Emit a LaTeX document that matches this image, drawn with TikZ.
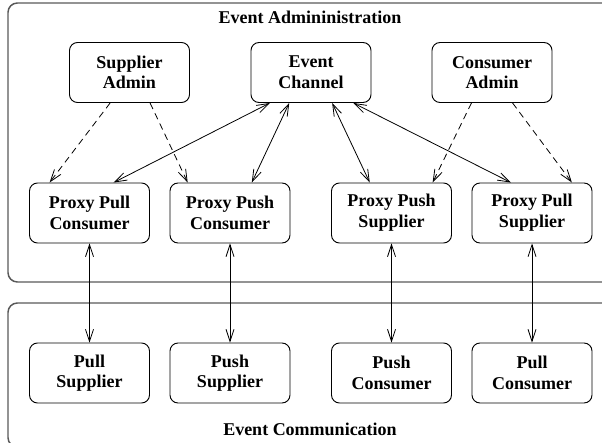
\documentclass[tikz,border=0pt]{standalone}
\usepackage{fontspec}
\setmainfont{Liberation Serif}
\usetikzlibrary{arrows.meta,calc}
\begin{document}
\begin{tikzpicture}[x=0.75pt,y=-0.75pt,
  comp/.style={draw=black,line width=0.7pt,rounded corners=6pt,minimum width=90pt,minimum height=45pt,
    align=center,inner sep=0pt,font=\fontsize{13.5}{15.5}\selectfont\bfseries},
  region/.style={draw=black!65,line width=1.1pt,rounded corners=7pt},
  regtitle/.style={font=\fontsize{13.5}{15.5}\selectfont\bfseries,inner sep=0pt},
  dep/.style={dash pattern=on 5pt off 3.5pt,line width=0.6pt,-{Straight Barb[length=9pt,width=6pt]}},
  bidi/.style={line width=0.6pt,{Straight Barb[length=9pt,width=6pt]}-{Straight Barb[length=9pt,width=6pt]}}]
\useasboundingbox (0,0) rectangle (602,442);
\clip (0,0) rectangle (602,442);
% regions
\draw[region] (8,3) rectangle (625,282);
\draw[region] (8,303) rectangle (625,447);
\node[regtitle] (admtitle) at (310,17) {Event Admininistration};
\node[regtitle] (comtitle) at (310,429) {Event Communication};
% top row
\node[comp] (sa) at (129.5,72.5) {Supplier\\Admin};
\node[comp] (ec) at (311,72.5) {Event\\Channel};
\node[comp] (ca) at (492,72.5) {Consumer\\Admin};
% proxies
\node[comp] (ppc) at (89.5,213) {Proxy Pull\\Consumer};
\node[comp] (phc) at (230,213) {Proxy Push\\Consumer};
\node[comp] (phs) at (391.5,213) {Proxy Push\\Supplier};
\node[comp] (pps) at (532,213) {Proxy Pull\\Supplier};
% clients
\node[comp] (pls) at (89.5,373) {Pull\\Supplier};
\node[comp] (pss) at (230,373) {Push\\Supplier};
\node[comp] (psc) at (391.5,373) {Push\\Consumer};
\node[comp] (plc) at (532,373) {Pull\\Consumer};
% dashed admin arrows
\draw[dep] ($(sa.south west)!0.34!(sa.south east)$) -- ($(ppc.north west)!0.17!(ppc.north east)$);
\draw[dep] ($(sa.south west)!0.67!(sa.south east)$) -- ($(phc.north west)!0.15!(phc.north east)$);
\draw[dep] ($(ca.south west)!0.33!(ca.south east)$) -- ($(phs.north west)!0.84!(phs.north east)$);
\draw[dep] ($(ca.south west)!0.67!(ca.south east)$) -- ($(pps.north west)!0.83!(pps.north east)$);
% event channel links
\draw[bidi] ($(ec.south west)!0.16!(ec.south east)$) -- ($(ppc.north west)!0.70!(ppc.north east)$);
\draw[bidi] ($(ec.south west)!0.32!(ec.south east)$) -- ($(phc.north west)!0.68!(phc.north east)$);
\draw[bidi] ($(ec.south west)!0.675!(ec.south east)$) -- ($(phs.north west)!0.32!(phs.north east)$);
\draw[bidi] ($(ec.south west)!0.85!(ec.south east)$) -- ($(pps.north west)!0.325!(pps.north east)$);
% vertical links
\draw[bidi] (ppc.south) -- (pls.north);
\draw[bidi] (phc.south) -- (pss.north);
\draw[bidi] (phs.south) -- (psc.north);
\draw[bidi] (pps.south) -- (plc.north);
\end{tikzpicture}
\end{document}
